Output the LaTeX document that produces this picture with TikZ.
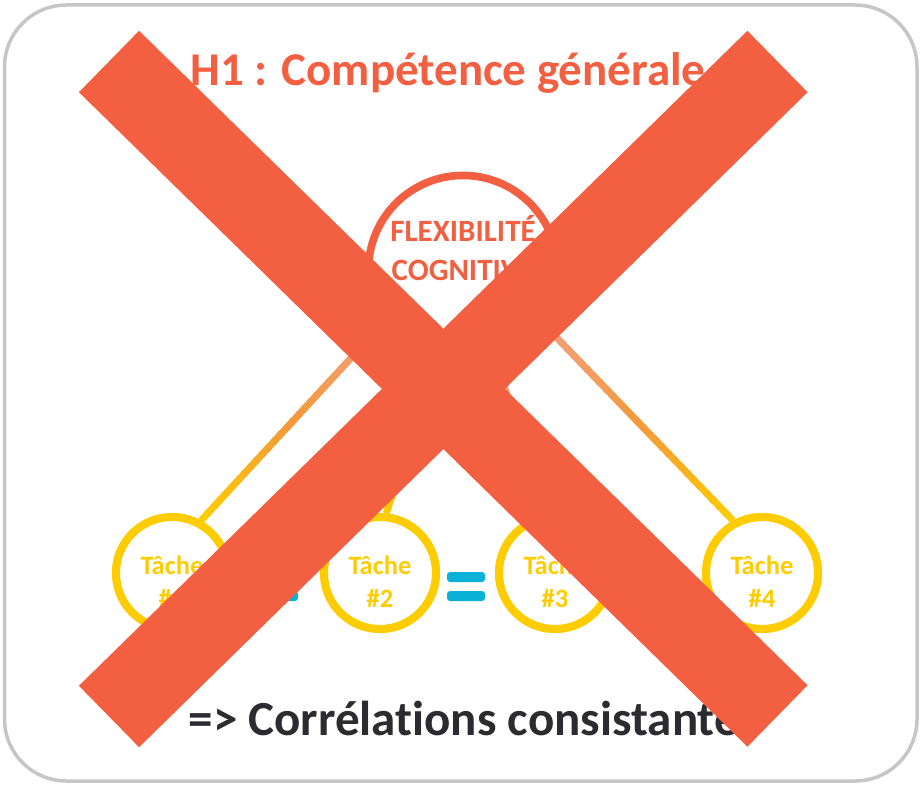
\documentclass[tikz,border=0pt]{standalone}
\usepackage{fontspec}
\setmainfont{Carlito}[RawFeature=-liga]
\usetikzlibrary{calc}
\definecolor{xred}{HTML}{F25F41}
\definecolor{tyellow}{HTML}{FFCC00}
\definecolor{lineorange}{HTML}{F29A3C}
\definecolor{linesalmon}{HTML}{F2A07E}
\definecolor{eqblue}{HTML}{0AB2D8}
\definecolor{boxgray}{HTML}{C6C6C6}
\definecolor{txtdark}{HTML}{2B2B30}
\tikzset{
  task/.style={circle, draw=tyellow, fill=white, line width=8pt, minimum size=112pt, inner sep=0pt},
  tasktext/.style={text=tyellow, font=\fontsize{26.5}{30}\selectfont\bfseries, anchor=base, inner sep=0pt},
  bigcircle/.style={circle, draw=xred, fill=white, line width=7.5pt, minimum size=189pt, inner sep=0pt},
  bigtext/.style={text=xred, font=\fontsize{31}{36}\selectfont\bfseries, anchor=base, inner sep=0pt},
  eqbar/.style={fill=eqblue, rounded corners=3pt},
  xbar/.style={draw=xred, line width=86pt},
  outerbox/.style={draw=boxgray, line width=3.5pt, rounded corners=62pt},
}
\newcommand{\gradline}[2]{%
  \foreach \i in {0,...,14}{%
    \pgfmathsetmacro\ta{\i/30}%
    \pgfmathsetmacro\tb{(\i+1.4)/30}%
    \pgfmathsetmacro\pc{100-\i*100/14}%
    \draw[line width=7pt, color=tyellow!\pc!lineorange] ($(#1)!\ta!(#2)$) -- ($(#1)!\tb!(#2)$);
  }%
  \foreach \i in {15,...,29}{%
    \pgfmathsetmacro\ta{\i/30}%
    \pgfmathsetmacro\tb{(\i+1.4)/30}%
    \pgfmathsetmacro\pc{100-(\i-15)*100/14}%
    \draw[line width=7pt, color=lineorange!\pc!linesalmon] ($(#1)!\ta!(#2)$) -- ($(#1)!\tb!(#2)$);
  }%
}
\begin{document}
\begin{tikzpicture}[x=1pt,y=-1pt]
\useasboundingbox (0,0) rectangle (923,786);
\draw[outerbox] (4.5,5) rectangle (917,781);

% nodes
\node[bigcircle] (fc) at (463,270) {};
\node[task] (t1) at (172,573) {};
\node[task] (t2) at (380,573) {};
\node[task] (t3) at (555,573) {};
\node[task] (t4) at (762,573) {};

% connectors
\gradline{t1.61}{fc.214}
\gradline{t2.84}{fc.253}
\gradline{t3.100}{fc.290}
\gradline{t4.119}{fc.326}

% redraw circles over connector ends
\node[bigcircle] (fcb) at (fc) {};
\node[task] (t1b) at (t1) {};
\node[task] (t2b) at (t2) {};
\node[task] (t3b) at (t3) {};
\node[task] (t4b) at (t4) {};

% texts
\node[bigtext] (fl1) at (463,242) {FLEXIBILITÉ};
\node[bigtext] (fl2) at (463,280) {COGNITIVE};
\foreach \n/\x in {1/172,2/380,3/555,4/762}{
  \node[tasktext] (ta\n) at (\x,574) {Tâche};
  \node[tasktext] (tb\n) at (\x,607) {\#\n};
}

% equals signs
\foreach \x in {279,466}{
  \fill[eqbar] (\x-19,572) rectangle (\x+19,582);
  \fill[eqbar] (\x-19,591) rectangle (\x+19,601);
}

% title and conclusion
\node[anchor=base, text=xred, font=\fontsize{47}{56}\selectfont\bfseries, inner sep=0pt] (title) at (448,86) {H1 : Compétence générale};
\node[anchor=base, text=txtdark, font=\fontsize{49}{58}\selectfont\bfseries, inner sep=0pt] (concl) at (473.5,735) {=> Corrélations consistantes};

% big cross
\coordinate (xa) at (109,61.5);
\coordinate (xb) at (777.5,716);
\coordinate (xc) at (109,716.5);
\coordinate (xd) at (777.5,61.5);
\draw[xbar] (xa) -- (xb);
\draw[xbar] (xc) -- (xd);
\end{tikzpicture}
\end{document}
